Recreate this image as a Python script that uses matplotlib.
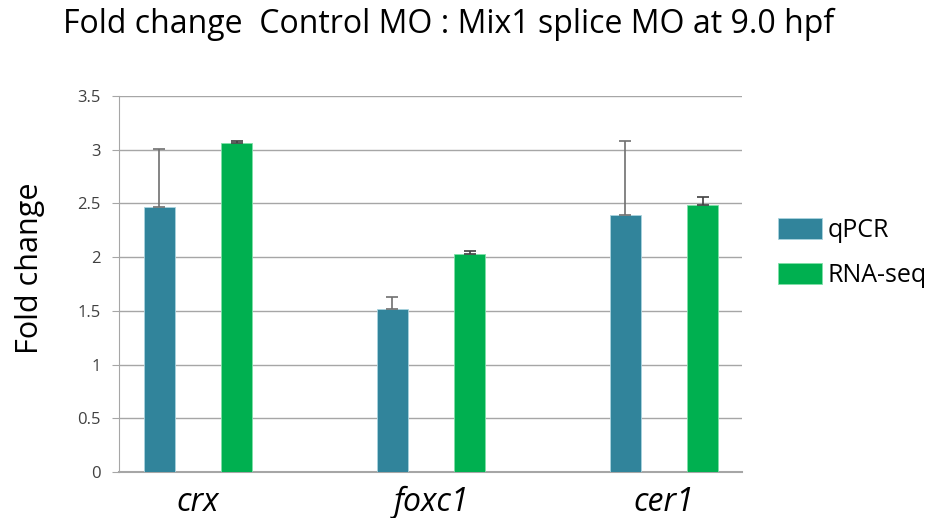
import matplotlib
matplotlib.use("Agg")
import matplotlib.pyplot as plt
import numpy as np

categories = ["crx", "foxc1", "cer1"]
series_names = ["qPCR", "RNA-seq"]
qpcr = [2.47, 1.52, 2.39]
qpcr_err = [0.54, 0.11, 0.69]
rnaseq = [3.06, 2.03, 2.49]
rnaseq_err = [0.02, 0.03, 0.07]
yticks = [0, 0.5, 1, 1.5, 2, 2.5, 3, 3.5]
ytick_labels = ["0", "0.5", "1", "1.5", "2", "2.5", "3", "3.5"]
title = "Fold change  Control MO : Mix1 splice MO at 9.0 hpf"
ylabel = "Fold change"

colors = ["#31849B", "#00B050"]
FONT = ["Open Sans", "DejaVu Sans"]
plt.rcParams['font.family'] = FONT

W, H = 941, 518
fig = plt.figure(figsize=(W / 100, H / 100), dpi=100)
ax = fig.add_axes([119 / W, 1 - 472 / H, (742 - 119) / W, (472 - 96) / H])

x = np.arange(len(categories))
bw = 0.133
off = 0.167
ax.bar(x - off, qpcr, bw, color=colors[0], edgecolor="#a9d3de", linewidth=0.6,
       label=series_names[0], zorder=3)
ax.bar(x + off, rnaseq, bw, color=colors[1], edgecolor="#7fe0a8", linewidth=0.6,
       label=series_names[1], zorder=3)
ax.errorbar(x - off, qpcr, yerr=[np.zeros(len(qpcr)), qpcr_err], fmt="none",
            ecolor="#707070", elinewidth=1.2, capsize=4.5, capthick=1.2, zorder=4)
ax.errorbar(x + off, rnaseq, yerr=[np.zeros(len(rnaseq)), rnaseq_err], fmt="none",
            ecolor="#404040", elinewidth=1.2, capsize=4.5, capthick=1.2, zorder=4)

ax.set_xlim(-0.339, 2.335)
ax.set_ylim(0, 3.5)
ax.set_yticks(yticks)
ax.set_yticklabels(ytick_labels, fontsize=12, color="#404040")
ax.yaxis.grid(True, color="#a6a6a6", linewidth=1.0, zorder=0)
ax.set_axisbelow(True)
ax.tick_params(axis="y", length=5, color="#a6a6a6", pad=8)
ax.set_xticks(x)
ax.set_xticklabels(categories, fontsize=23, style="italic", color="black")
ax.tick_params(axis="x", length=0, pad=10)
for s in ["top", "right"]:
    ax.spines[s].set_visible(False)
ax.spines["left"].set_color("#a6a6a6")
ax.spines["bottom"].set_color("#a6a6a6")
ax.spines["bottom"].set_linewidth(1.5)

fig.text(63 / W, 1 - 24 / H, title, fontsize=23, ha="left", va="center")
fig.text(30 / W, 1 - 268 / H, ylabel, fontsize=22, rotation=90, ha="center", va="center")

handles, labels = ax.get_legend_handles_labels()
leg = fig.legend(handles, labels, loc="upper left", bbox_to_anchor=(758 / W, 1 - 198 / H),
                 frameon=False, fontsize=18, handlelength=1.75, handleheight=0.92,
                 labelspacing=0.8, handletextpad=0.25, borderpad=0.3)

fig.savefig("out.png", dpi=100)
